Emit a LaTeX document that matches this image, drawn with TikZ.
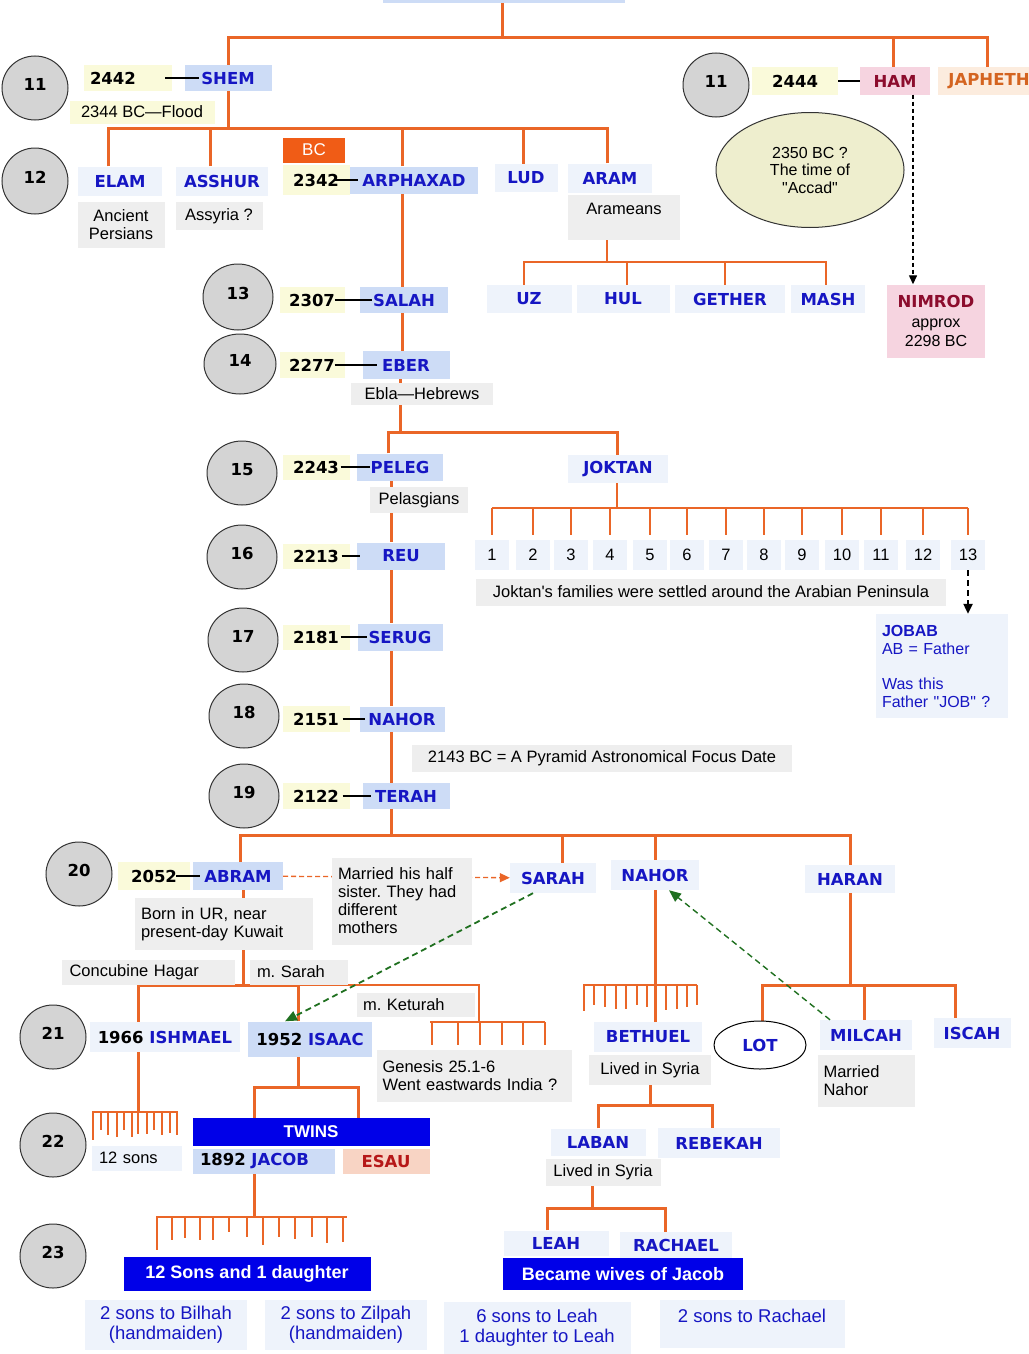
\documentclass[tikz,border=0pt]{standalone}
\usepackage{fontspec}
\setmainfont{Liberation Sans}
\newfontfamily\namefont{DejaVu Sans}
\usetikzlibrary{shapes.geometric,arrows.meta}
\definecolor{treeorange}{RGB}{234,102,40}
\definecolor{nameblue}{RGB}{205,220,246}
\definecolor{paleblue}{RGB}{238,243,251}
\definecolor{notegray}{RGB}{238,238,238}
\definecolor{yearyellow}{RGB}{250,250,218}
\definecolor{nametext}{RGB}{22,22,195}
\definecolor{solidblue}{RGB}{0,0,232}
\definecolor{gengray}{RGB}{212,212,212}
\definecolor{accadfill}{RGB}{238,238,206}
\definecolor{hampink}{RGB}{246,212,224}
\definecolor{hamred}{RGB}{140,12,45}
\definecolor{japhfill}{RGB}{252,236,222}
\definecolor{japhtext}{RGB}{212,100,32}
\definecolor{esaufill}{RGB}{248,212,196}
\definecolor{esautext}{RGB}{182,24,24}
\definecolor{bcorange}{RGB}{240,92,22}
\definecolor{linkgreen}{RGB}{32,112,32}
\newcommand\namesize{\namefont\bfseries\fontsize{16.5}{19}\selectfont}
\newcommand\notesize{\fontsize{16.5}{18}\selectfont}
\frenchspacing
\pgfdeclarelayer{bg}
\pgfsetlayers{bg,main}
\tikzset{
	gencircle/.style={ellipse, draw=black!80, line width=1, fill=gengray, minimum width=66, minimum height=64, inner sep=0, text depth=7, font=\namesize},
	namebox/.style={fill=nameblue, text=nametext, font=\namesize, inner sep=0, minimum height=27},
	palebox/.style={namebox, fill=paleblue},
	yearbox/.style={fill=yearyellow, font=\namesize, inner sep=0, minimum height=26},
	note/.style={fill=notegray, font=\notesize, inner sep=0, align=center},
	numbox/.style={fill=paleblue, font=\notesize, inner sep=0, minimum width=34, minimum height=30},
	bottomnote/.style={fill=paleblue, text=nametext, font=\fontsize{18.5}{20}\selectfont, inner sep=0, align=center},
	solidbox/.style={fill=solidblue, text=white, font=\bfseries\fontsize{18}{20}\selectfont, inner sep=0},
	trunk/.style={draw=treeorange, line width=3},
	twig/.style={draw=treeorange, line width=1.6},
	comb/.style={draw=treeorange, line width=2.2},
	yearlink/.style={draw=black, line width=2.2},
	hamarrow/.style={draw=black, line width=1.3, dash pattern=on 4pt off 3pt, -{Triangle[width=8pt,length=9pt]}},
	jobarrow/.style={draw=black, line width=2.2, dash pattern=on 6pt off 4pt, -{Triangle[width=9pt,length=10pt]}},
	greenarrow/.style={draw=linkgreen, line width=1.4, dash pattern=on 6pt off 4pt, -{Triangle[width=10pt,length=12pt]}},
	orangearrow/.style={draw=treeorange, line width=1.3, dash pattern=on 5pt off 3pt, -{Triangle[width=9pt,length=10pt]}}
}
\begin{document}
\begin{tikzpicture}[x=1pt,y=-1pt]
	\useasboundingbox (0,0) rectangle (1028,1354);

	\node[namebox, minimum width=242, minimum height=30, anchor=south] at (504,3) (noah) {};

	\node[gencircle] at (35,88) (g11) {11};
	\node[gencircle] at (716,85) (g11b) {11};
	\node[gencircle, minimum height=66] at (35,181) (g12) {12};
	\node[gencircle, minimum width=70, minimum height=66] at (238,297) (g13) {13};
	\node[gencircle, minimum width=72, minimum height=60] at (240,364) (g14) {14};
	\node[gencircle, minimum width=70] at (242,473) (g15) {15};
	\node[gencircle, minimum width=70] at (242,557) (g16) {16};
	\node[gencircle, minimum width=70] at (243,640) (g17) {17};
	\node[gencircle, minimum width=70] at (244,716) (g18) {18};
	\node[gencircle, minimum width=70] at (244,796) (g19) {19};
	\node[gencircle] at (79,874) (g20) {20};
	\node[gencircle] at (53,1037) (g21) {21};
	\node[gencircle] at (53,1145) (g22) {22};
	\node[gencircle] at (53,1256) (g23) {23};

	\node[yearbox, text width=76, inner xsep=6, align=left] at (128,78) (y2442) {2442};
	\node[namebox, minimum width=87, minimum height=25] at (228,78) (shem) {SHEM};
	\node[note, fill=yearyellow, minimum width=145, minimum height=23] at (142,112) (flood) {2344 BC—Flood};
	\node[yearbox, minimum width=86, minimum height=28] at (795,81) (y2444) {2444};
	\node[namebox, fill=hampink, text=hamred, minimum width=70] at (895,81) (ham) {HAM};
	\node[namebox, fill=japhfill, text=japhtext, minimum width=102, minimum height=28] at (989,81) (japheth) {JAPHETH};
	\node[ellipse, draw=black!80, line width=1, fill=accadfill, minimum width=188, minimum height=115, inner sep=0, align=center, font=\fontsize{16}{17.5}\selectfont] at (810,170) (accad) {2350 BC ?\\The time of\\\textquotedbl Accad\textquotedbl};

	\node[palebox, minimum width=84, minimum height=29] at (120,181) (elam) {ELAM};
	\node[palebox, minimum width=92, minimum height=29] at (222,181) (asshur) {ASSHUR};
	\node[fill=bcorange, text=white, font=\fontsize{17}{19}\selectfont, minimum width=62, minimum height=25, inner sep=0] at (314,150) (bc) {BC};
	\node[yearbox, minimum width=67, minimum height=30] at (316,180) (y2342) {2342};
	\node[namebox, minimum width=128] at (414,180) (arphaxad) {ARPHAXAD};
	\node[palebox, minimum width=63, minimum height=28] at (526,178) (lud) {LUD};
	\node[palebox, minimum width=84, minimum height=29] at (610,178) (aram) {ARAM};
	\node[note, minimum width=87, minimum height=46] at (121,225) (persians) {Ancient\\Persians};
	\node[note, minimum width=87, minimum height=28] at (219,216) (assyria) {Assyria ?};
	\node[note, minimum width=112, text height=19, text depth=26, anchor=north] at (624,195) (arameans) {Arameans};

	\node[palebox, minimum width=85, minimum height=28] at (529,299) (uz) {UZ};
	\node[palebox, minimum width=93, minimum height=28] at (623,299) (hul) {HUL};
	\node[palebox, minimum width=110, minimum height=28] at (730,299) (gether) {GETHER};
	\node[palebox, minimum width=74, minimum height=28] at (828,299) (mash) {MASH};
	\node[fill=hampink, minimum width=98, minimum height=73, inner sep=0, align=center, font=\fontsize{16}{19.5}\selectfont] at (936,321) (nimrod) {{\namesize\color{hamred}NIMROD}\\approx\\2298 BC};

	\node[yearbox, minimum width=65] at (312,300) (y2307) {2307};
	\node[namebox, minimum width=88, minimum height=26] at (404,300) (salah) {SALAH};
	\node[yearbox, minimum width=65] at (312,365) (y2277) {2277};
	\node[namebox, minimum width=87, minimum height=28] at (406,365) (eber) {EBER};
	\node[note, minimum width=142, minimum height=22] at (422,394) (ebla) {Ebla—Hebrews};

	\node[yearbox, minimum width=67, minimum height=25] at (316,467) (y2243) {2243};
	\node[namebox, minimum width=86] at (400,467) (peleg) {PELEG};
	\node[palebox, minimum width=100, minimum height=28] at (618,469) (joktan) {JOKTAN};
	\node[note, minimum width=98, minimum height=26] at (419,500) (pelasgians) {Pelasgians};

	\foreach \i/\x in {1/492,2/533,3/571,4/610,5/650,6/687,7/726,8/764,9/802,10/842,11/881,12/923,13/968}
		\node[numbox] at (\x,555) (j\i) {\i};
	\node[note, minimum width=470, minimum height=27] at (711,592) (joktanfam) {Joktan\textquotesingle s families were settled around the Arabian Peninsula};
	\node[palebox, text=nametext, font=\fontsize{16}{18}\selectfont, text width=120, inner xsep=6, align=left, minimum height=104] at (942,666) (jobab) {{\bfseries JOBAB}\\AB = Father\\[17pt]Was this\\Father \textquotedbl JOB\textquotedbl\ ?};

	\node[yearbox, minimum width=67, minimum height=25] at (316,556) (y2213) {2213};
	\node[namebox, minimum width=88] at (401,556) (reu) {REU};
	\node[yearbox, minimum width=67, minimum height=25] at (316,637) (y2181) {2181};
	\node[namebox, minimum width=85] at (400,637) (serug) {SERUG};
	\node[yearbox, minimum width=67] at (316,719) (y2151) {2151};
	\node[namebox, minimum width=85, minimum height=25] at (402,719) (nahor) {NAHOR};
	\node[note, minimum width=380, minimum height=27] at (602,758) (pyramid) {2143 BC = A Pyramid Astronomical Focus Date};
	\node[yearbox, minimum width=67] at (316,796) (y2122) {2122};
	\node[namebox, minimum width=87, minimum height=26] at (406,796) (terah) {TERAH};

	\node[yearbox, minimum width=72, minimum height=28] at (154,876) (y2052) {2052};
	\node[namebox, minimum width=90, minimum height=28] at (238,876) (abram) {ABRAM};
	\node[note, align=left, text width=128, inner xsep=6, minimum height=87] at (402,901) (married) {Married his half\\sister. They had\\different\\mothers};
	\node[palebox, minimum width=86, minimum height=30] at (553,878) (sarah) {SARAH};
	\node[palebox, minimum width=88, minimum height=30] at (655,875) (nahorb) {NAHOR};
	\node[palebox, minimum width=90, minimum height=28] at (850,879) (haran) {HARAN};
	\node[note, align=left, text width=166, inner xsep=6, minimum height=52] at (224,924) (born) {Born in UR, near\\present-day Kuwait};
	\node[note, align=left, text width=157, inner xsep=8, minimum height=25] at (148,972) (hagar) {Concubine Hagar};
	\node[note, align=left, text width=84, inner xsep=7, minimum height=25] at (299,972) (msarah) {m. Sarah};
	\node[note, align=left, text width=106, inner xsep=6, minimum height=24] at (416,1005) (keturah) {m. Keturah};

	\node[palebox, minimum width=150, minimum height=30] at (165,1037) (ishmael) {\textcolor{black}{1966} ISHMAEL};
	\node[namebox, minimum width=124, minimum height=35] at (310,1039) (isaac) {\textcolor{black}{1952} ISAAC};
	\node[note, align=left, text width=183, inner xsep=6, minimum height=52] at (474,1076) (genesis) {Genesis 25.1-6\\Went eastwards India ?};
	\node[palebox, minimum width=108, minimum height=30] at (648,1037) (bethuel) {BETHUEL};
	\node[note, minimum width=122, minimum height=30] at (650,1070) (lived) {Lived in Syria};
	\node[ellipse, draw=black, line width=1, fill=white, text=nametext, font=\namesize, minimum width=92, minimum height=48, inner sep=0] at (760,1045) (lot) {LOT};
	\node[palebox, minimum width=92, minimum height=30] at (866,1035) (milcah) {MILCAH};
	\node[palebox, minimum width=77, minimum height=30] at (972,1033) (iscah) {ISCAH};
	\node[note, align=left, text width=85, inner xsep=6, minimum height=52] at (866,1081) (marriednahor) {Married\\Nahor};

	\node[palebox, text=black, font=\notesize, text width=76, inner xsep=7, align=left, minimum height=25] at (137,1158) (twelvesons) {12 sons};
	\node[solidbox, font=\bfseries\fontsize{17}{19}\selectfont, minimum width=237, minimum height=28] at (311,1132) (twins) {TWINS};
	\node[namebox, minimum height=25, text width=128, inner xsep=7, align=left] at (264,1161) (jacob) {\textcolor{black}{1892} JACOB};
	\node[namebox, fill=esaufill, text=esautext, minimum width=87, minimum height=25] at (386,1161) (esau) {ESAU};
	\node[palebox, minimum width=95, minimum height=27] at (598,1142) (laban) {LABAN};
	\node[palebox, minimum width=122, minimum height=30] at (719,1143) (rebekah) {REBEKAH};
	\node[note, minimum width=115, minimum height=27] at (603,1172) (livedb) {Lived in Syria};

	\node[solidbox, minimum width=247, minimum height=34] at (247,1274) (sonsdaughter) {12 Sons and 1 daughter};
	\node[palebox, minimum width=105, minimum height=25] at (556,1243) (leah) {LEAH};
	\node[palebox, minimum width=112, minimum height=26] at (676,1245) (rachael) {RACHAEL};
	\node[solidbox, minimum width=240, minimum height=32] at (623,1274) (wives) {Became wives of Jacob};

	\node[bottomnote, minimum width=162, minimum height=50] at (166,1325) (bilhah) {2 sons to Bilhah\\(handmaiden)};
	\node[bottomnote, minimum width=162, minimum height=50] at (346,1325) (zilpah) {2 sons to Zilpah\\(handmaiden)};
	\node[bottomnote, minimum width=187, minimum height=52] at (537,1328) (leahsons) {6 sons to Leah\\1 daughter to Leah};
	\node[bottomnote, minimum width=185, text height=22, text depth=26, anchor=north] at (752,1300) (rachaelsons) {2 sons to Rachael};

	\coordinate (noahbus) at (502,38);
	\coordinate (shembus) at (228,128);
	\coordinate (arambus) at (607,262);
	\coordinate (eberbus) at (400,432);
	\coordinate (joktanbus) at (617,508);
	\coordinate (terahbus) at (391,835);
	\coordinate (abrambus) at (243,985);
	\coordinate (keturahbus) at (479,1022);
	\coordinate (nahorbus) at (655,985);
	\coordinate (haranbus) at (850,985);
	\coordinate (ishbus) at (138,1112);
	\coordinate (isaacbus) at (298,1087);
	\coordinate (jacobbus) at (254,1217);
	\coordinate (bethbus) at (650,1105);
	\coordinate (labanbus) at (592,1208);

	\begin{pgfonlayer}{bg}
		\draw[trunk] (noah.south -| noahbus) -- (noahbus);
		\draw[trunk] (shem.north) |- (noahbus);
		\draw[trunk] ([xshift=-2]ham.north) |- (noahbus);
		\draw[trunk] ([xshift=-2]japheth.north) |- (noahbus);
		\draw[trunk] (shem.south) -- (shembus);
		\foreach \n/\dx in {elam/-12,asshur/-12,arphaxad/-12,lud/-3,aram/-3}
			\draw[trunk] ([xshift=\dx]\n.north) |- (shembus);
		\draw[twig] (arameans.south -| arambus) -- (arambus);
		\foreach \n/\dx in {uz/-5,hul/4,gether/-5,mash/-2}
			\draw[twig] ([xshift=\dx]\n.north) |- (arambus);

		\draw[trunk] ([xshift=-12]arphaxad.south) -- ([xshift=-2]salah.north);
		\draw[trunk] ([xshift=-2]salah.south) -- ([xshift=-4]eber.north);
		\draw[trunk] (eber.south -| eberbus) -- (eberbus);
		\draw[trunk] ([xshift=-12]peleg.north) |- (eberbus);
		\draw[trunk] ([xshift=-1]joktan.north) |- (eberbus);
		\draw[twig] (joktan.south -| joktanbus) -- (joktanbus);
		\draw[twig] (j1.north |- joktanbus) -- (j13.north |- joktanbus);
		\foreach \i in {1,...,13}
			\draw[twig] (j\i.north |- joktanbus) -- ++(0,27);

		\draw[trunk] ([xshift=-9]peleg.south) -- ([xshift=-10]reu.north);
		\draw[trunk] ([xshift=-10]reu.south) -- ([xshift=-9]serug.north);
		\draw[trunk] ([xshift=-9]serug.south) -- ([xshift=-11]nahor.north);
		\draw[trunk] ([xshift=-11]nahor.south) -- ([xshift=-15]terah.north);
		\draw[trunk] (terah.south -| terahbus) -- (terahbus);
		\foreach \n/\dx in {abram/2,sarah/9,nahorb/0,haran/0}
			\draw[trunk] ([xshift=\dx]\n.north) |- (terahbus);
		\draw[orangearrow] (abram) -- (sarah);

		\draw[trunk] (abram.south -| abrambus) -- (abrambus);
		\draw[trunk] ([xshift=-27]ishmael.north) |- (abrambus);
		\draw[trunk] ([xshift=-12]isaac.north) |- (abrambus);
		\draw[comb] (keturahbus) |- (abrambus);
		\draw[twig] (keturahbus) ++(-49,0) -- ++(115,0);
		\foreach \dx in {-47,-21,1,23,44,66}
			\draw[twig] (keturahbus) ++(\dx,0) -- ++(0,23);

		\draw[trunk] (ishmael.south -| ishbus) -- (ishbus);
		\draw[twig] (ishbus) ++(-46,0) -- ++(86,0);
		\foreach \dx/\l in {-45/28,-37/18,-30/23,-21/25,-14/18,-6/25,0/22,9/22,16/18,24/23,32/21,39/23}
			\draw[twig] (ishbus) ++(\dx,0) -- ++(0,\l);

		\draw[trunk] (isaac.south -| isaacbus) -- (isaacbus);
		\draw[trunk] ([xshift=-57]twins.north) |- (isaacbus);
		\draw[trunk] ([xshift=47]twins.north) |- (isaacbus);

		\draw[trunk] (jacob.south -| jacobbus) -- (jacobbus);
		\draw[comb] (jacobbus) ++(-98,0) -- ++(191,0);
		\foreach \dx/\l in {-97/33,-82/23,-69/21,-54/23,-41/23,-25/15,-7/20,9/28,25/20,41/22,58/20,73/26,89/25}
			\draw[comb] (jacobbus) ++(\dx,0) -- ++(0,\l);

		\draw[trunk] (nahorb.south) -- (nahorb.south |- bethuel.north);
		\draw[comb] (nahorbus) ++(-72,0) -- ++(114,0);
		\foreach \dx/\l in {-71/26,-61/20,-50/22,-39/24,-29/24,-18/20,-8/22,11/25,22/24,32/22,42/20}
			\draw[comb] (nahorbus) ++(\dx,0) -- ++(0,\l);

		\draw[trunk] (haran.south) -- (haranbus);
		\foreach \n/\dx in {lot/2,milcah/-2,iscah/-17}
			\draw[trunk] ([xshift=\dx]\n.north) |- (haranbus);

		\draw[trunk] (lived.south -| bethbus) -- (bethbus);
		\draw[trunk] (laban.north) |- (bethbus);
		\draw[trunk] ([xshift=-7]rebekah.north) |- (bethbus);
		\draw[trunk] (livedb.south -| labanbus) -- (labanbus);
		\draw[trunk] ([xshift=-9]leah.north) |- (labanbus);
		\draw[trunk] ([xshift=-11]rachael.north) |- (labanbus);
	\end{pgfonlayer}

	\draw[yearlink] ([xshift=-7]y2442.east) -- ([xshift=15]shem.west);
	\draw[yearlink] (y2444.east) -- (ham.west);
	\draw[yearlink] ([xshift=-15]y2342.east) -- ([xshift=8]arphaxad.west);
	\draw[yearlink] ([xshift=-10]y2307.east) -- ([xshift=12]salah.west);
	\draw[yearlink] ([xshift=-10]y2277.east) -- ([xshift=15]eber.west);
	\draw[yearlink] ([xshift=-9]y2243.east) -- ([xshift=13]peleg.west);
	\draw[yearlink] ([xshift=-8]y2213.east) -- ([xshift=3]reu.west);
	\draw[yearlink] ([xshift=-9]y2181.east) -- ([xshift=10]serug.west);
	\draw[yearlink] ([xshift=-7]y2151.east) -- ([xshift=6]nahor.west);
	\draw[yearlink] ([xshift=-7]y2122.east) -- ([xshift=9]terah.west);
	\draw[yearlink] ([xshift=-14]y2052.east) -- ([xshift=7]abram.west);

	\draw[hamarrow] ([xshift=18]ham.south) -- ([xshift=18]ham.south |- nimrod.north);
	\draw[jobarrow] (j13.south) -- (j13.south |- jobab.north);
	\draw[greenarrow, line width=1.8] ([xshift=-20]sarah.south) -- ([xshift=-25]isaac.north);
	\draw[greenarrow] ([xshift=-36]milcah.north) -- ([xshift=14]nahorb.south);
\end{tikzpicture}
\end{document}
